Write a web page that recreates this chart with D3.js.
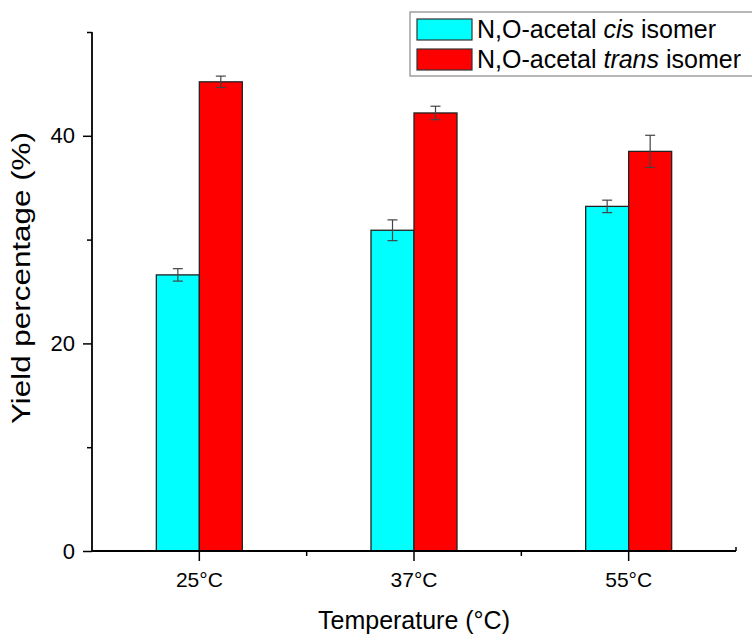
<!DOCTYPE html>
<html>
<head>
<meta charset="utf-8">
<script src="https://cdn.jsdelivr.net/npm/d3@7"></script>
<style>
  body { margin: 0; background: #fff; }
  text { font-family: "Liberation Sans", Arial, sans-serif; fill: #000; }
</style>
</head>
<body>
<script>
// chart data
const temps = ["25°C", "37°C", "55°C"];
const seriesNames = ["cis", "trans"];
const cisValues = [26.6, 30.9, 33.2];
const cisErrors = [0.6, 1.0, 0.6];
const transValues = [45.2, 42.2, 38.5];
const transErrors = [0.55, 0.65, 1.55];
const yTicks = [0, 20, 40];
const yMinorTicks = [10, 30, 50];

const W = 752, H = 635;
const m = { left: 92, right: 16, top: 32, bottom: 84 };
const w = W - m.left - m.right;
const h = H - m.top - m.bottom;

const svg = d3.select("body").append("svg")
    .attr("width", W)
    .attr("height", H);

const g = svg.append("g").attr("transform", "translate(" + m.left + "," + m.top + ")");

const x = d3.scaleBand().domain(temps).range([0, w]).padding(0);
const barW = 43;
const xs = d3.scaleBand().domain(seriesNames).range([-barW, barW]);
const y = d3.scaleLinear().domain([0, 50]).range([h, 0]);

const colors = { cis: "#00ffff", trans: "#ff0000" };

// rows for bars
const rows = [];
temps.forEach((t, i) => {
    rows.push({ t: t, s: "cis", v: cisValues[i], e: cisErrors[i] });
    rows.push({ t: t, s: "trans", v: transValues[i], e: transErrors[i] });
});

// bars
g.selectAll("rect.bar")
    .data(rows)
    .enter()
    .append("rect")
    .attr("class", "bar")
    .attr("x", d => x(d.t) + x.bandwidth() / 2 + xs(d.s))
    .attr("y", d => y(d.v))
    .attr("width", xs.bandwidth())
    .attr("height", d => h - y(d.v))
    .attr("fill", d => colors[d.s])
    .attr("stroke", "#222")
    .attr("stroke-width", 1.3);

// error bars
const eb = g.selectAll("g.err")
    .data(rows)
    .enter()
    .append("g")
    .attr("class", "err")
    .attr("stroke", "#444")
    .attr("stroke-width", 1.2);
const cx = d => x(d.t) + x.bandwidth() / 2 + xs(d.s) + xs.bandwidth() / 2;
eb.append("line")
    .attr("x1", cx).attr("x2", cx)
    .attr("y1", d => y(d.v + d.e)).attr("y2", d => y(d.v - d.e));
eb.append("line")
    .attr("x1", d => cx(d) - 5).attr("x2", d => cx(d) + 5)
    .attr("y1", d => y(d.v + d.e)).attr("y2", d => y(d.v + d.e));
eb.append("line")
    .attr("x1", d => cx(d) - 5).attr("x2", d => cx(d) + 5)
    .attr("y1", d => y(d.v - d.e)).attr("y2", d => y(d.v - d.e));

// y axis
const yAxis = d3.axisLeft(y).tickValues(yTicks).tickSize(9).tickPadding(8);
const ya = g.append("g").call(yAxis);
ya.select(".domain").remove();
ya.selectAll("line").attr("stroke", "#000").attr("stroke-width", 1.5);
ya.selectAll("text").style("font-size", "22px");
const yMinor = d3.axisLeft(y).tickValues(yMinorTicks).tickSize(5).tickFormat("");
const ym = g.append("g").call(yMinor);
ym.select(".domain").remove();
ym.selectAll("line").attr("stroke", "#000").attr("stroke-width", 1.5);
g.append("line")
    .attr("x1", 0).attr("x2", 0).attr("y1", 0).attr("y2", h)
    .attr("stroke", "#000").attr("stroke-width", 1.8);

// x axis
const xAxis = d3.axisBottom(x).tickSize(10).tickPadding(11);
const xa = g.append("g").attr("transform", "translate(0," + h + ")").call(xAxis);
xa.select(".domain").remove();
xa.selectAll("line").attr("stroke", "#000").attr("stroke-width", 1.5);
xa.selectAll("text").style("font-size", "21px");
const bounds = temps.slice(1).map(t => x(t));
g.selectAll("line.xminor")
    .data(bounds)
    .enter()
    .append("line")
    .attr("class", "xminor")
    .attr("x1", d => d).attr("x2", d => d)
    .attr("y1", h).attr("y2", h + 5)
    .attr("stroke", "#000").attr("stroke-width", 1.5);
g.append("line")
    .attr("x1", w).attr("x2", w).attr("y1", h).attr("y2", h - 4)
    .attr("stroke", "#000").attr("stroke-width", 1.5);
g.append("line")
    .attr("x1", 0).attr("x2", w).attr("y1", h).attr("y2", h)
    .attr("stroke", "#000").attr("stroke-width", 1.8);

// axis titles
svg.append("text")
    .attr("x", m.left + w / 2)
    .attr("y", 629)
    .attr("text-anchor", "middle")
    .style("font-size", "25px")
    .text("Temperature (°C)");
svg.append("text")
    .attr("transform", "translate(30,278) rotate(-90)")
    .attr("text-anchor", "middle")
    .attr("textLength", 292)
    .attr("lengthAdjust", "spacingAndGlyphs")
    .style("font-size", "25px")
    .text("Yield percentage (%)");

// legend
const lg = svg.append("g").attr("transform", "translate(410,12)");
lg.append("rect")
    .attr("x", 0).attr("y", 0).attr("width", 360).attr("height", 64)
    .attr("fill", "#fff").attr("stroke", "#888").attr("stroke-width", 1.2);
const labels = [
    { s: "cis", it: "cis" },
    { s: "trans", it: "trans" }
];
labels.forEach((d, i) => {
    lg.append("rect")
        .attr("x", 7).attr("y", 7 + i * 30).attr("width", 55).attr("height", 21)
        .attr("fill", colors[d.s]).attr("stroke", "#333").attr("stroke-width", 1.2);
    const t = lg.append("text")
        .attr("x", 67).attr("y", 26 + i * 30)
        .style("font-size", "25px");
    t.append("tspan").text("N,O-acetal ");
    t.append("tspan").style("font-style", "italic").text(d.it);
    t.append("tspan").text(" isomer");
});
</script>
</body>
</html>
